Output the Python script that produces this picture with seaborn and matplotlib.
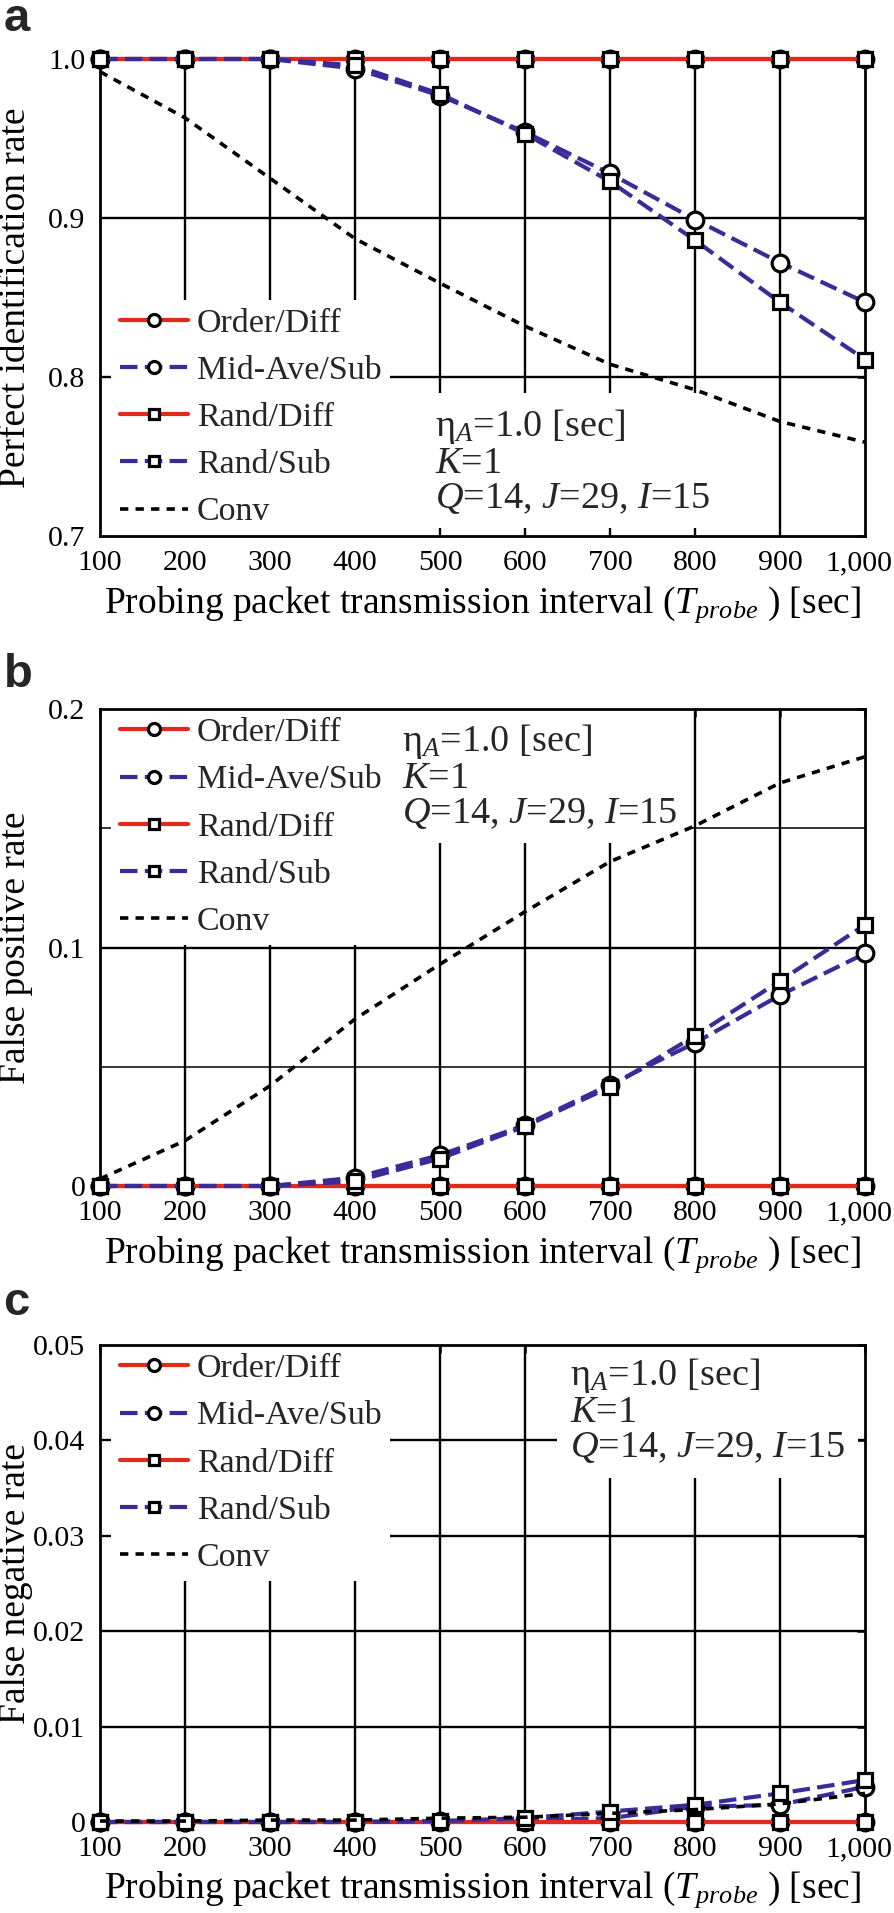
import matplotlib
matplotlib.use('Agg')
import matplotlib.pyplot as plt
import matplotlib.transforms as mtransforms
import seaborn as sns
import pandas as pd

# x axis: probing packet transmission interval [sec]
intervals = [100, 200, 300, 400, 500, 600, 700, 800, 900, 1000]
x_tick_labels = ['100', '200', '300', '400', '500', '600', '700', '800', '900', '1,000']

methods = ['Order/Diff', 'Mid-Ave/Sub', 'Rand/Diff', 'Rand/Sub', 'Conv']

# (a) perfect identification rate
perfect_order_diff = [1.0, 1.0, 1.0, 1.0, 1.0, 1.0, 1.0, 1.0, 1.0, 1.0]
perfect_mid_ave_sub = [1.0, 1.0, 1.0, 0.994, 0.977, 0.954, 0.928, 0.899, 0.872, 0.847]
perfect_rand_diff = [1.0, 1.0, 1.0, 1.0, 1.0, 1.0, 1.0, 1.0, 1.0, 1.0]
perfect_rand_sub = [1.0, 1.0, 1.0, 0.996, 0.978, 0.953, 0.923, 0.886, 0.847, 0.811]
perfect_conv = [0.992, 0.963, 0.925, 0.887, 0.859, 0.832, 0.808, 0.792, 0.772, 0.759]

# (b) false positive rate
fp_order_diff = [0, 0, 0, 0, 0, 0, 0, 0, 0, 0]
fp_mid_ave_sub = [0, 0, 0, 0.0035, 0.013, 0.0255, 0.0425, 0.060, 0.080, 0.0975]
fp_rand_diff = [0, 0, 0, 0, 0, 0, 0, 0, 0, 0]
fp_rand_sub = [0, 0, 0, 0.002, 0.0115, 0.025, 0.0415, 0.063, 0.086, 0.1095]
fp_conv = [0.003, 0.019, 0.042, 0.070, 0.093, 0.115, 0.136, 0.151, 0.169, 0.180]

# (c) false negative rate
fn_order_diff = [0, 0, 0, 0, 0, 0, 0, 0, 0, 0]
fn_mid_ave_sub = [0, 0, 0, 0, 0.0001, 0.0002, 0.0004, 0.0016, 0.0018, 0.0037]
fn_rand_diff = [0, 0, 0, 0, 0, 0, 0, 0, 0, 0]
fn_rand_sub = [0, 0, 0, 0, 0.0001, 0.0004, 0.0011, 0.0018, 0.0030, 0.0044]
fn_conv = [0.0001, 0.0001, 0.0002, 0.0002, 0.0004, 0.0005, 0.0009, 0.0013, 0.0019, 0.0030]

panels = [
    dict(letter='a', ylabel='Perfect identification rate',
         series=[perfect_order_diff, perfect_mid_ave_sub, perfect_rand_diff, perfect_rand_sub, perfect_conv],
         ylim=(0.7, 1.0), yticks=[0.7, 0.8, 0.9, 1.0], yticklabels=['0.7', '0.8', '0.9', '1.0'],
         grid_major=[0.8, 0.9], grid_minor=[]),
    dict(letter='b', ylabel='False positive rate',
         series=[fp_order_diff, fp_mid_ave_sub, fp_rand_diff, fp_rand_sub, fp_conv],
         ylim=(0, 0.2), yticks=[0, 0.1, 0.2], yticklabels=['0', '0.1', '0.2'],
         grid_major=[0.1], grid_minor=[0.05, 0.15]),
    dict(letter='c', ylabel='False negative rate',
         series=[fn_order_diff, fn_mid_ave_sub, fn_rand_diff, fn_rand_sub, fn_conv],
         ylim=(0, 0.05), yticks=[0, 0.01, 0.02, 0.03, 0.04, 0.05],
         yticklabels=['0', '0.01', '0.02', '0.03', '0.04', '0.05'],
         grid_major=[0.01, 0.02, 0.03, 0.04], grid_minor=[]),
]

RED = '#e2291c'
BLUE = '#3a2c98'
styles = {
    'Order/Diff': dict(color=RED, linestyle='-', lw=3.0, marker='o', markersize=12),
    'Mid-Ave/Sub': dict(color=BLUE, linestyle=(0, (4.2, 1.75)), lw=3.0, marker='o', markersize=12),
    'Rand/Diff': dict(color=RED, linestyle='-', lw=3.0, marker='s', markersize=9.5),
    'Rand/Sub': dict(color=BLUE, linestyle=(0, (4.2, 1.75)), lw=3.0, marker='s', markersize=9.5),
    'Conv': dict(color='black', linestyle=(0, (2.3, 2.0)), lw=2.6),
}

sns.set_theme(style='white')
plt.rcParams['font.family'] = 'serif'
plt.rcParams['font.serif'] = ['Liberation Serif', 'DejaVu Serif']
plt.rcParams['mathtext.fontset'] = 'custom'
plt.rcParams['mathtext.rm'] = 'Liberation Serif'
plt.rcParams['mathtext.it'] = 'Liberation Serif:italic'

W, H = 894, 1913
fig = plt.figure(figsize=(W / 100, H / 100), dpi=100)

# axes top / bottom in pixels, letter baseline
ax_px = [(59, 536, 31), (709, 1186, 687), (1345, 1822, 1315)]
# annotation position (data coords) and legend placement
annot_pos = [(494, 0.781), (455, 0.1945), (653, 0.0488)]
legend_loc = [('lower left', (0.015, 0.0)), ('upper left', (0.015, 1.0)), ('upper left', (0.015, 1.0))]

annot = 'η$_{\\mathit{A}}$=1.0 [sec]\n$\\mathit{K}$=1\n$\\mathit{Q}$=14, $\\mathit{J}$=29, $\\mathit{I}$=15'

for i, p in enumerate(panels):
    top, bottom, letter_y = ax_px[i]
    ax = fig.add_axes([100 / W, 1 - bottom / H, 765 / W, (bottom - top) / H])

    df = pd.DataFrame({
        'interval': intervals * len(methods),
        'method': [m for m in methods for _ in intervals],
        'value': [v for s in p['series'] for v in s],
    })
    for m in methods:
        st = dict(styles[m])
        sub = df[df['method'] == m]
        extra = {}
        if 'marker' in st:
            extra = dict(markerfacecolor='white', markeredgecolor='black',
                         markeredgewidth=2.3)
        sns.lineplot(data=sub, x='interval', y='value', ax=ax, label=m,
                     estimator=None, errorbar=None, sort=False, zorder=3,
                     clip_on=False, **st, **extra)

    # grid drawn by hand so the white boxes can hide it
    for xv in intervals[1:-1]:
        ax.axvline(xv, color='black', lw=1.7, zorder=0.5)
    for yv in p['grid_major']:
        ax.axhline(yv, color='black', lw=1.7, zorder=0.5)
    for yv in p['grid_minor']:
        ax.axhline(yv, color='black', lw=1.1, zorder=0.5)

    ax.set_xlim(100, 1000)
    ax.set_ylim(*p['ylim'])
    ax.set_xticks(intervals)
    ax.set_xticklabels(x_tick_labels)
    ax.set_yticks(p['yticks'])
    ax.set_yticklabels(p['yticklabels'])
    ax.tick_params(direction='in', length=6, width=1.8, top=True, right=True,
                   labelsize=21.5, color='black', labelcolor='black')
    ax.tick_params(axis='x', pad=10)
    ax.tick_params(axis='y', pad=10.5)
    # nudge "1,000" so it stays inside the figure
    last = ax.get_xticklabels()[-1]
    last.set_transform(last.get_transform() +
                       mtransforms.ScaledTranslation(-0.06, 0, fig.dpi_scale_trans))
    for sp in ax.spines.values():
        sp.set_visible(True)
        sp.set_color('black')
        sp.set_linewidth(2.0)

    ax.set_xlabel('Probing packet transmission interval ($T_{probe}$ ) [sec]',
                  fontsize=27, color='black')
    ax.xaxis.set_label_coords(0.5, -0.1)
    ax.set_ylabel(p['ylabel'], fontsize=27, color='black')
    ax.yaxis.set_label_coords(-0.088, 0.5)

    handles, labels = ax.get_legend_handles_labels()
    loc, anchor = legend_loc[i]
    leg = ax.legend(handles, labels, loc=loc, bbox_to_anchor=anchor,
                    fontsize=24.5, frameon=True, fancybox=False,
                    edgecolor='none', facecolor='white', framealpha=1,
                    borderpad=0.25, borderaxespad=0, handlelength=2.0,
                    handletextpad=0.26, labelspacing=0.48, markerscale=0.72,
                    numpoints=1)
    leg.set_zorder(1)

    ax.text(annot_pos[i][0], annot_pos[i][1], annot, fontsize=27.5, ha='left',
            va='top', linespacing=1.0, zorder=1,
            bbox=dict(facecolor='white', edgecolor='none', pad=9))

    fig.text(0.004, 1 - letter_y / H, p['letter'], fontsize=34,
             fontweight='bold', family='Liberation Sans', ha='left',
             va='baseline')

fig.savefig('out.png', dpi=100)
